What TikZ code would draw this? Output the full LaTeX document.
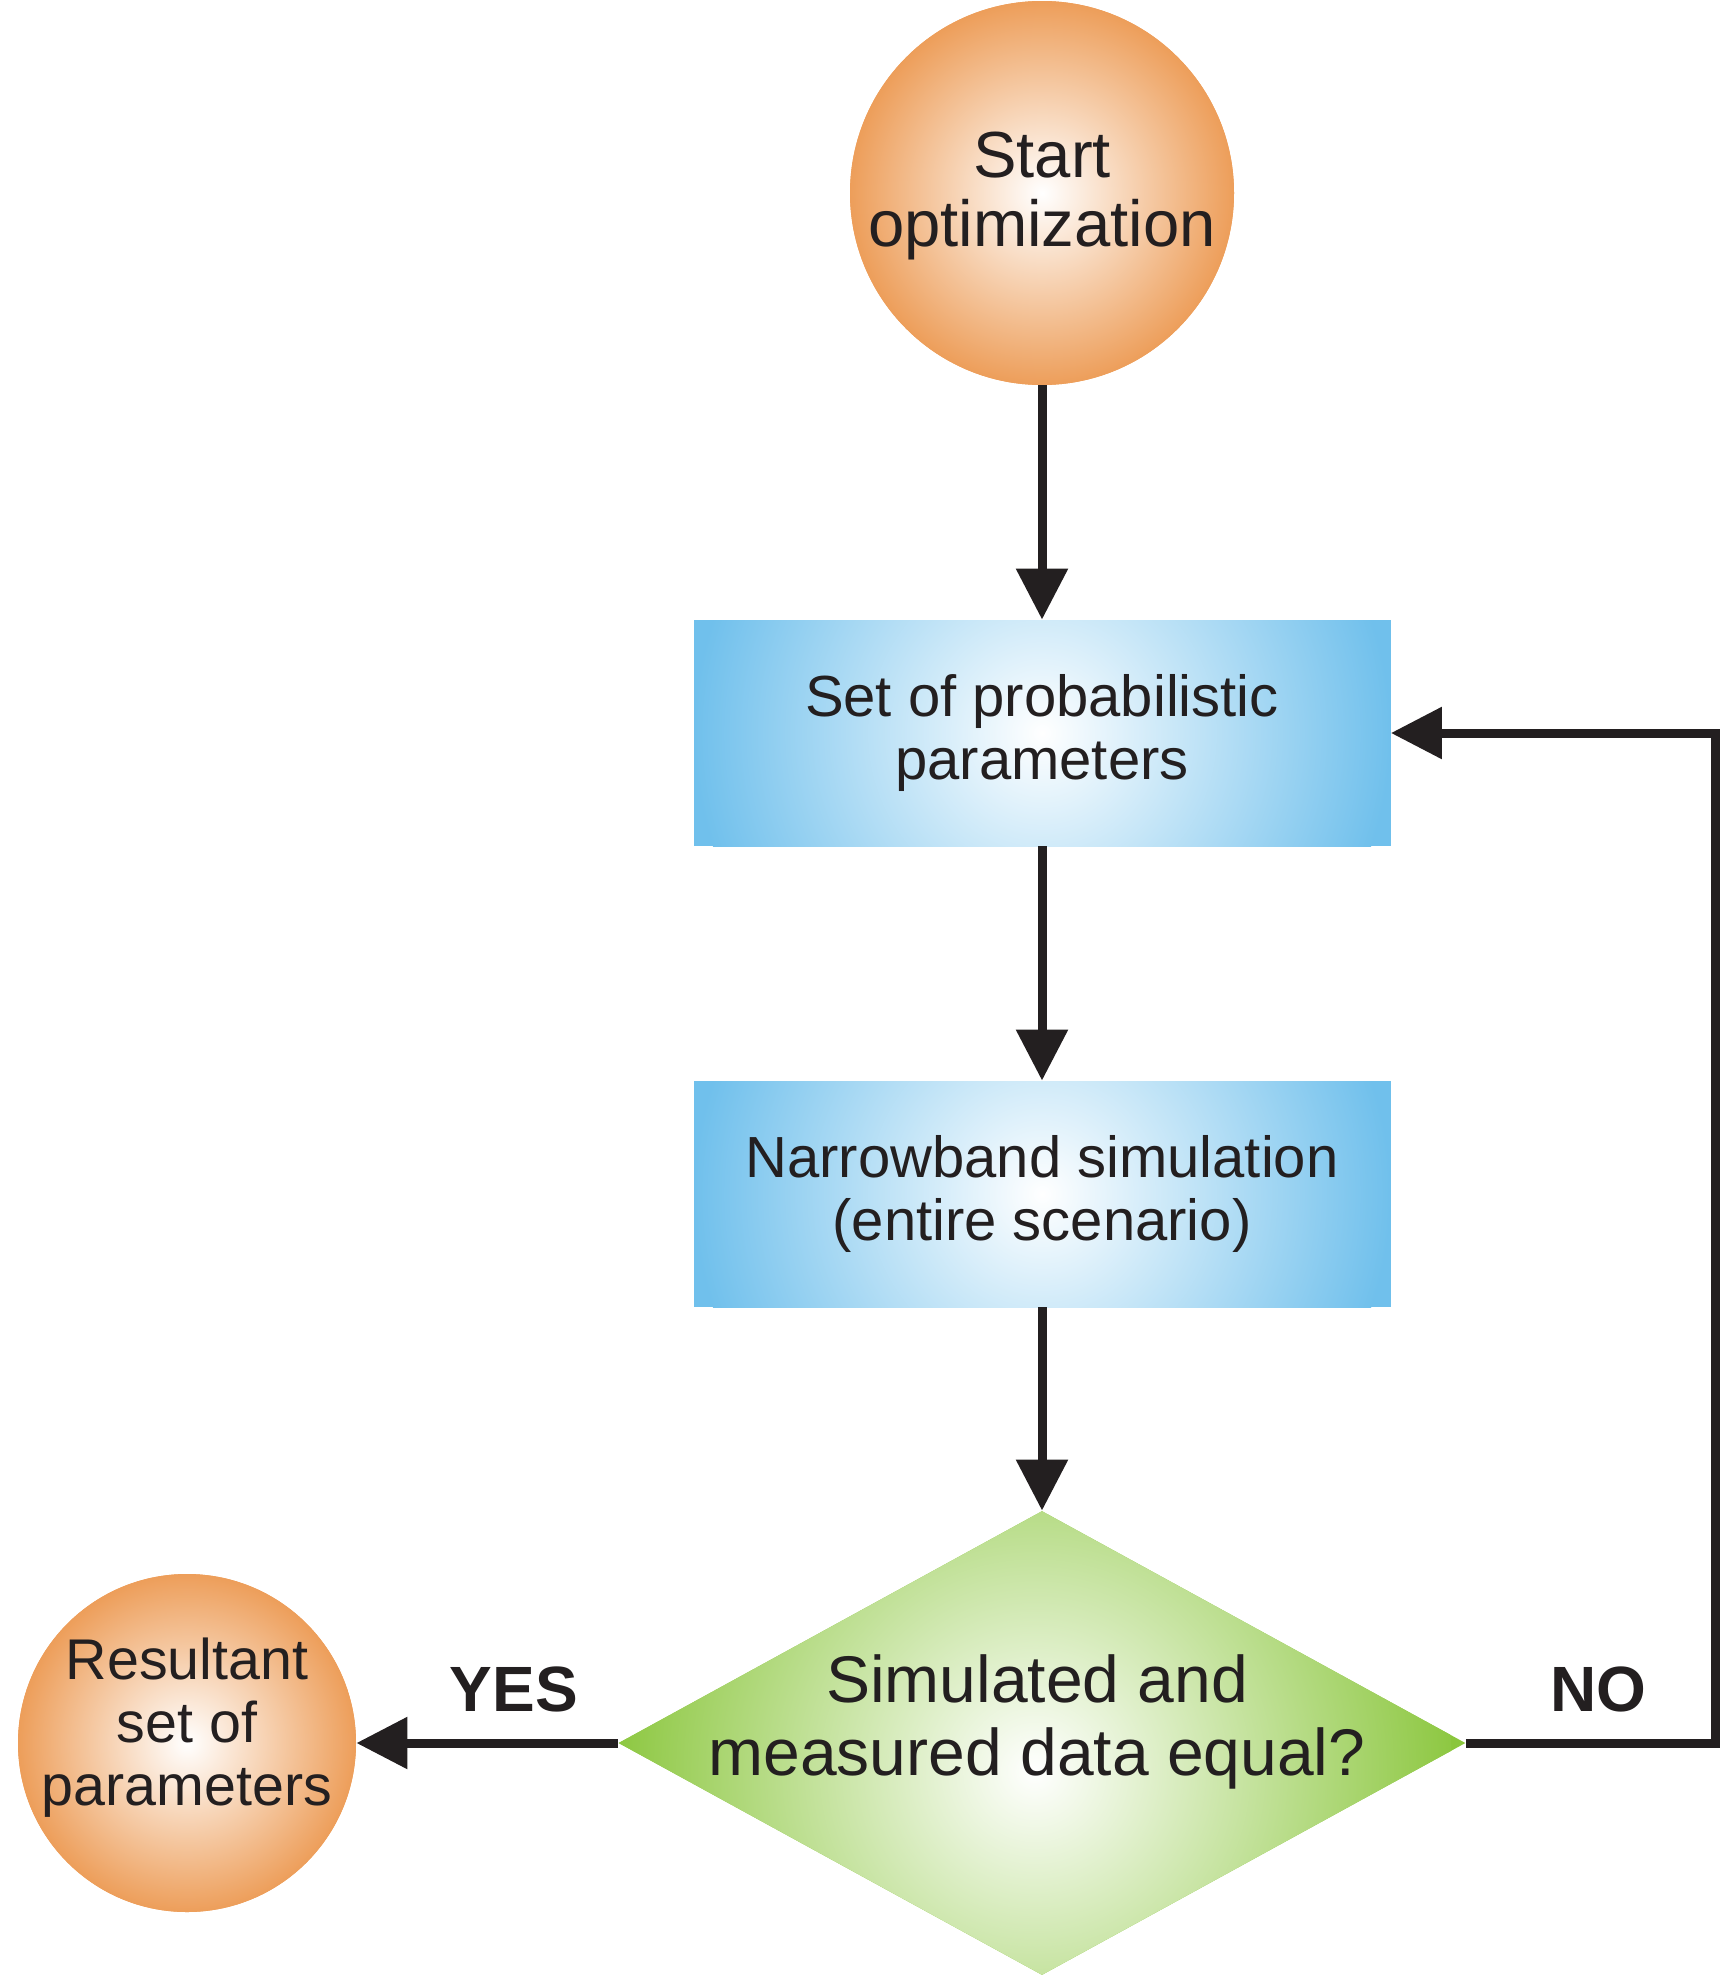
\documentclass[tikz,border=0pt]{standalone}
\usepackage{fontspec}
\setmainfont{Liberation Sans}
\usetikzlibrary{arrows.meta,shapes.geometric}
\definecolor{orng}{RGB}{237,158,90}
\definecolor{blu}{RGB}{112,192,236}
\definecolor{grn}{RGB}{138,198,60}
\definecolor{ink}{RGB}{35,31,32}
\begin{document}
\begin{tikzpicture}[x=0.5pt,y=0.5pt,
  startend/.style={circle, inner sep=0pt, minimum size=#1, fill=orng,
    path picture={\shade[inner color=white, outer color=orng] (path picture bounding box.center) circle (#1/2);}},
  procbox/.style={rectangle, inner sep=0pt, minimum width=348.5pt, minimum height=113pt, fill=blu,
    align=center, text=ink, font=\fontsize{29pt}{31.5pt}\selectfont,
    path picture={\shade[inner color=white, outer color=blu] (path picture bounding box.center) circle (174pt);}},
  decision/.style={diamond, inner sep=0pt, minimum width=423.5pt, minimum height=232pt, fill=grn,
    path picture={\shade[inner color=white, outer color=grn] ([xshift=-7pt,yshift=-14pt]path picture bounding box.center) circle (212pt);}},
  txt/.style={align=center, text=ink, inner sep=0pt},
  lbl/.style={text=ink, inner sep=0pt, font=\bfseries\fontsize{32pt}{36pt}\selectfont},
  arr/.style={draw=ink, line width=4.5pt, -{Triangle[length=25.5pt, width=25pt]}}
]
\useasboundingbox (0,0) rectangle (1719,-1976);

\node[startend=192pt] (start) at (1042,-193) {};
\node[txt, font=\fontsize{32.6pt}{34.5pt}\selectfont] (starttxt) at (1042,-196) {Start\\optimization};

\node[procbox] (box1) at (1042,-733) {Set of probabilistic\\parameters};
\node[procbox] (box2) at (1042,-1194) {Narrowband simulation\\(entire scenario)};

\node[decision] (dec) at (1042,-1743) {};
\node[txt, font=\fontsize{33pt}{36.5pt}\selectfont] (dectxt) at (1037,-1722) {Simulated and\\measured data equal?};

\node[startend=169pt] (res) at (187,-1743) {};
\node[txt, font=\fontsize{28.7pt}{31.5pt}\selectfont] (restxt) at (187,-1728) {Resultant\\set of\\parameters};

\node[lbl] (yes) at (514,-1689) {YES};
\node[lbl] (no) at (1598,-1689) {NO};

\coordinate (nocorner) at (1715,-1743);

\draw[arr] (start.south) -- (box1.north);
\draw[arr] (box1.south) -- (box2.north);
\draw[arr] (box2.south) -- (dec.north);
\draw[arr] (dec.west) -- (res.east);
\draw[arr] (dec.east) -- (nocorner) |- (box1.east);
\end{tikzpicture}
\end{document}
